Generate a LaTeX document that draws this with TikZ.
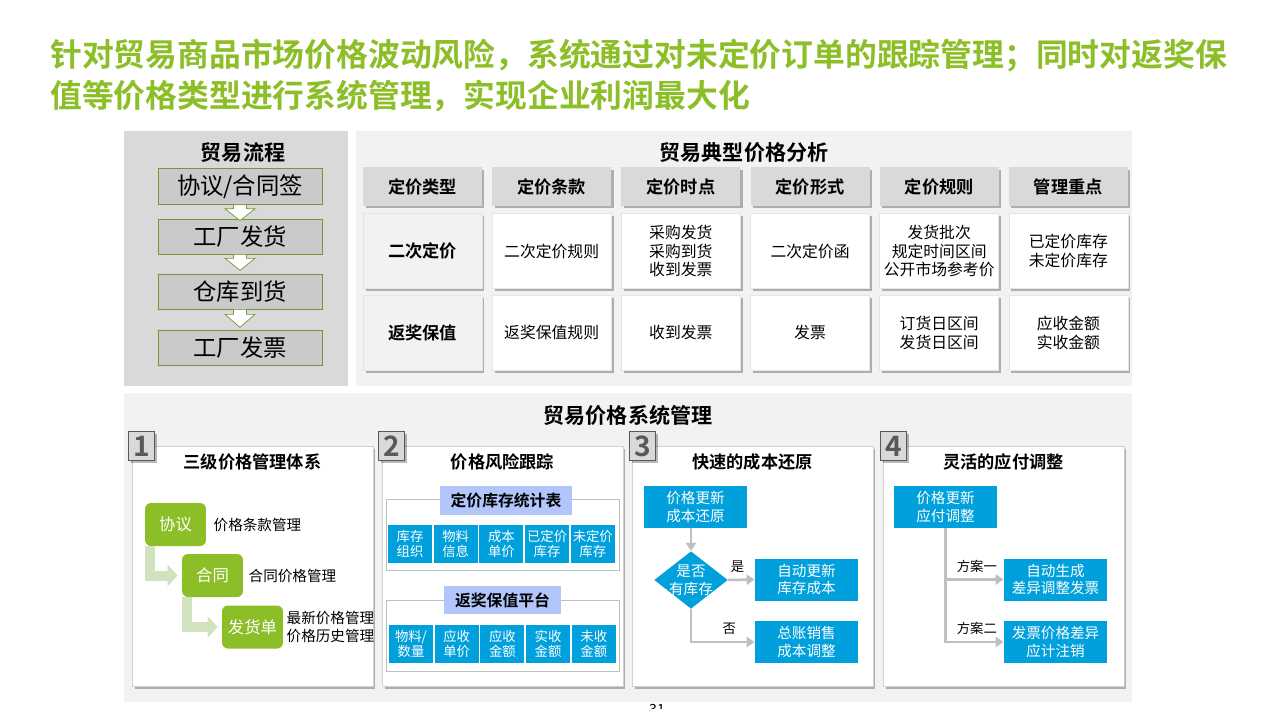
\documentclass[tikz,border=0pt]{standalone}
\usepackage{fontspec}
\setmainfont{Noto Sans CJK SC}[BoldFont={* Bold}]
\usepackage{tikz}
\usetikzlibrary{arrows.meta,positioning,shapes.geometric,shadows}

\definecolor{lvse}{RGB}{140,190,40}
\definecolor{ganlan}{RGB}{118,150,56}
\definecolor{qianlv}{RGB}{208,226,190}
\definecolor{lanse}{RGB}{0,160,220}
\definecolor{qianlan}{RGB}{178,198,252}
\definecolor{huidi}{RGB}{242,242,242}
\definecolor{zhonghui}{RGB}{217,217,217}
\definecolor{kuanghui}{RGB}{202,202,202}
\definecolor{xianhui}{RGB}{191,191,191}
\definecolor{shenhui}{RGB}{89,89,89}

\begin{document}
\begin{tikzpicture}[x=0.02cm, y=-0.02cm,
  yinying/.style={drop shadow={shadow xshift=0.05cm, shadow yshift=-0.05cm, fill=black, opacity=0.28}},
  dabiaoti/.style={font=\bfseries\fontsize{12}{14}\selectfont},
  xiaobiaoti/.style={font=\bfseries\fontsize{9.8}{12}\selectfont},
  liucheng/.style={draw=ganlan, fill=kuanghui, minimum width=3.28cm, minimum height=0.7cm, font=\fontsize{13.3}{15}\selectfont},
  kuaijian/.style={draw=ganlan, fill=white, line join=miter},
  biaotou/.style={fill=zhonghui, yinying, minimum width=2.38cm, minimum height=0.78cm, inner sep=1pt, font=\bfseries\fontsize{9.8}{12}\selectfont},
  danyuan/.style={fill=white, draw=black!10, yinying, minimum width=2.38cm, minimum height=1.5cm, inner sep=1pt, align=center, font=\fontsize{9}{10.6}\selectfont},
  zuolie/.style={danyuan, fill=huidi, font=\bfseries\fontsize{9.8}{12}\selectfont},
  mianban/.style={fill=white, draw=black!18, yinying, minimum width=4.82cm, minimum height=4.8cm},
  hao/.style={fill=zhonghui, draw=shenhui, yinying, minimum width=0.52cm, minimum height=0.58cm, inner sep=0pt, text=shenhui, font=\bfseries\fontsize{16}{16}\selectfont},
  lvhe/.style={fill=lvse, rounded corners=0.12cm, minimum width=1.22cm, minimum height=0.86cm, inner sep=0pt, text=white, font=\fontsize{9.3}{11}\selectfont},
  shuoming/.style={inner sep=0pt, align=left, font=\fontsize{8.3}{10.2}\selectfont},
  lvjian/.style={qianlv, line width=0.2cm, -{Triangle[length=0.2cm, width=0.42cm]}},
  zukuang/.style={draw=xianhui, fill=white, minimum width=4.66cm, minimum height=1.42cm},
  zubiao/.style={fill=qianlan, inner sep=0pt, font=\bfseries\fontsize{9}{11}\selectfont},
  xiaoge/.style={fill=lanse, text=white, minimum width=0.88cm, minimum height=0.76cm, inner sep=0pt, align=center, font=\fontsize{7.6}{8.8}\selectfont},
  lanhe/.style={fill=lanse, text=white, minimum width=2.06cm, minimum height=0.84cm, inner sep=0pt, align=center, font=\fontsize{8.3}{10}\selectfont},
  panduan/.style={diamond, fill=lanse, text=white, aspect=1.28, inner sep=-0.04cm, align=center, font=\fontsize{8.3}{10}\selectfont},
  huijian/.style={xianhui, line width=0.05cm, -{Triangle[length=0.16cm, width=0.2cm]}},
  biaozhu/.style={font=\fontsize{7.6}{9}\selectfont}
]
\useasboundingbox (0,0) rectangle (1280,720);

% title
\node[anchor=north west, inner sep=0pt, align=left, text=lvse, font=\bfseries\fontsize{18.1}{23.3}\selectfont] (biaoti) at (50,39)
  {针对贸易商品市场价格波动风险，系统通过对未定价订单的跟踪管理；同时对返奖保\\值等价格类型进行系统管理，实现企业利润最大化};

% background panels
\node[fill=zhonghui, minimum width=4.48cm, minimum height=5.1cm] (liuchengban) at (236,258.5) {};
\node[fill=huidi, minimum width=15.52cm, minimum height=5.1cm] (fenxiban) at (744,258.5) {};
\node[fill=huidi, minimum width=20.16cm, minimum height=6.18cm] (guanliban) at (628,547.5) {};
\node[dabiaoti] (liuchengbt) at (243,153) {贸易流程};
\node[dabiaoti] (fenxibt) at (744,153) {贸易典型价格分析};
\node[dabiaoti] (guanlibt) at (628,415) {贸易价格系统管理};

% trade flow
\node[liucheng] (qianyue) at (240,186.5) {协议/合同签};
\node[liucheng] (fahuo) at (240,236.5) {工厂发货};
\node[liucheng] (daohuo) at (240,291.5) {仓库到货};
\node[liucheng] (fapiao) at (240,347.5) {工厂发票};
\draw[kuaijian] (qianyue.south) ++(-6.5,0) -- ++(0,4) -- ++(-8.5,0) -- ++(15,12) -- ++(15,-12) -- ++(-8.5,0) -- ++(0,-4) -- cycle;
\draw[kuaijian] (fahuo.south) ++(-6.5,0) -- ++(0,4) -- ++(-8.5,0) -- ++(15,12) -- ++(15,-12) -- ++(-8.5,0) -- ++(0,-4) -- cycle;
\draw[kuaijian] (daohuo.south) ++(-6.5,0) -- ++(0,5) -- ++(-8.5,0) -- ++(15,13) -- ++(15,-13) -- ++(-8.5,0) -- ++(0,-5) -- cycle;

% price analysis table
\node[biaotou] (tou1) at (422.5,186.5) {定价类型};
\node[biaotou, right=0.19cm of tou1] (tou2) {定价条款};
\node[biaotou, right=0.19cm of tou2] (tou3) {定价时点};
\node[biaotou, right=0.19cm of tou3] (tou4) {定价形式};
\node[biaotou, right=0.19cm of tou4] (tou5) {定价规则};
\node[biaotou, right=0.19cm of tou5] (tou6) {管理重点};
\node[zuolie, below=0.14cm of tou1] (erci1) {二次定价};
\node[danyuan, below=0.14cm of tou2] (erci2) {二次定价规则};
\node[danyuan, below=0.14cm of tou3] (erci3) {采购发货\\采购到货\\收到发票};
\node[danyuan, below=0.14cm of tou4] (erci4) {二次定价函};
\node[danyuan, below=0.14cm of tou5] (erci5) {发货批次\\规定时间区间\\公开市场参考价};
\node[danyuan, below=0.14cm of tou6] (erci6) {已定价库存\\未定价库存};
\node[zuolie, below=0.12cm of erci1] (fanj1) {返奖保值};
\node[danyuan, below=0.12cm of erci2] (fanj2) {返奖保值规则};
\node[danyuan, below=0.12cm of erci3] (fanj3) {收到发票};
\node[danyuan, below=0.12cm of erci4] (fanj4) {发票};
\node[danyuan, below=0.12cm of erci5] (fanj5) {订货日区间\\发货日区间};
\node[danyuan, below=0.12cm of erci6] (fanj6) {应收金额\\实收金额};

% system management panels
\node[mianban] (ban1) at (252.5,566.5) {};
\node[mianban] (ban2) at (502.5,566.5) {};
\node[mianban] (ban3) at (752.5,566.5) {};
\node[mianban] (ban4) at (1003.5,566.5) {};
\node[hao] (hao1) at ([xshift=0.2cm]ban1.north west) {1};
\node[hao] (hao2) at ([xshift=0.2cm]ban2.north west) {2};
\node[hao] (hao3) at ([xshift=0.22cm]ban3.north west) {3};
\node[hao] (hao4) at ([xshift=0.22cm]ban4.north west) {4};
\node[xiaobiaoti] (bt1) at ([yshift=-0.31cm]ban1.north) {三级价格管理体系};
\node[xiaobiaoti] (bt2) at ([yshift=-0.31cm]ban2.north) {价格风险跟踪};
\node[xiaobiaoti] (bt3) at ([yshift=-0.31cm]ban3.north) {快速的成本还原};
\node[xiaobiaoti] (bt4) at ([yshift=-0.31cm]ban4.north) {灵活的应付调整};

% 1
\node[lvhe] (xieyi) at (175.5,524.5) {协议};
\node[lvhe] (hetong) at (212.5,575.5) {合同};
\node[lvhe] (fahuodan) at (252.5,627) {发货单};
\node[shuoming, right=0.14cm of xieyi] (tiaokuan) {价格条款管理};
\node[shuoming, right=0.1cm of hetong] (hetongjg) {合同价格管理};
\node[shuoming, right=0.06cm of fahuodan] (lishi) {最新价格管理\\价格历史管理};
\draw[lvjian] ([xshift=0.1cm]xieyi.south west) |- ([xshift=-0.08cm]hetong.west);
\draw[lvjian] ([xshift=0.1cm]hetong.south west) |- ([xshift=-0.08cm]fahuodan.west);

% 2
\node[zukuang] (zu1) at (502.5,534.5) {};
\node[zubiao, minimum width=2.64cm, minimum height=0.58cm] (tongji) at (506,500.5) {定价库存统计表};
\node[xiaoge] (g11) at (410,544) {库存\\组织};
\node[xiaoge, right=0.02cm of g11] (g12) {物料\\信息};
\node[xiaoge, right=0.02cm of g12] (g13) {成本\\单价};
\node[xiaoge, right=0.02cm of g13] (g14) {已定价\\库存};
\node[xiaoge, right=0.02cm of g14] (g15) {未定价\\库存};
\node[zukuang] (zu2) at (502.5,635.5) {};
\node[zubiao, minimum width=2.34cm, minimum height=0.56cm] (pingtai) at (502.5,600) {返奖保值平台};
\node[xiaoge] (g21) at (411,644) {物料/\\数量};
\node[xiaoge, right=0.02cm of g21] (g22) {应收\\单价};
\node[xiaoge, right=0.02cm of g22] (g23) {应收\\金额};
\node[xiaoge, right=0.02cm of g23] (g24) {实收\\金额};
\node[xiaoge, right=0.02cm of g24] (g25) {未收\\金额};

% 3
\node[lanhe] (gengxin3) at (695.5,507) {价格更新\\成本还原};
\node[panduan] (kucun) at (691,580) {是否\\有库存};
\node[lanhe] (zidong) at (806.5,579.5) {自动更新\\库存成本};
\node[lanhe] (zongzhang) at (806.5,642) {总账销售\\成本调整};
\draw[huijian] (gengxin3.south -| kucun.north) -- (kucun.north);
\draw[huijian] (kucun.east) -- node[biaozhu, pos=0.35, above, text=black] {是} (zidong.west);
\draw[huijian] (kucun.south) |- node[biaozhu, pos=0.8, above, text=black] {否} (zongzhang.west);

% 4
\node[lanhe] (gengxin4) at (945.5,507) {价格更新\\应付调整};
\node[lanhe] (shengcheng) at (1055.5,579.5) {自动生成\\差异调整发票};
\node[lanhe] (zhuxiao) at (1055.5,642) {发票价格差异\\应计注销};
\draw[huijian] (gengxin4.south) |- node[biaozhu, pos=0.77, above, text=black] {方案一} (shengcheng.west);
\draw[huijian] (gengxin4.south) |- node[biaozhu, pos=0.77, above, text=black] {方案二} (zhuxiao.west);

% page number
\begin{scope}
\clip (600,690) rectangle (720,708);
\node[font=\fontsize{8}{9}\selectfont] (yema) at (657,709) {31};
\end{scope}
\end{tikzpicture}
\end{document}
